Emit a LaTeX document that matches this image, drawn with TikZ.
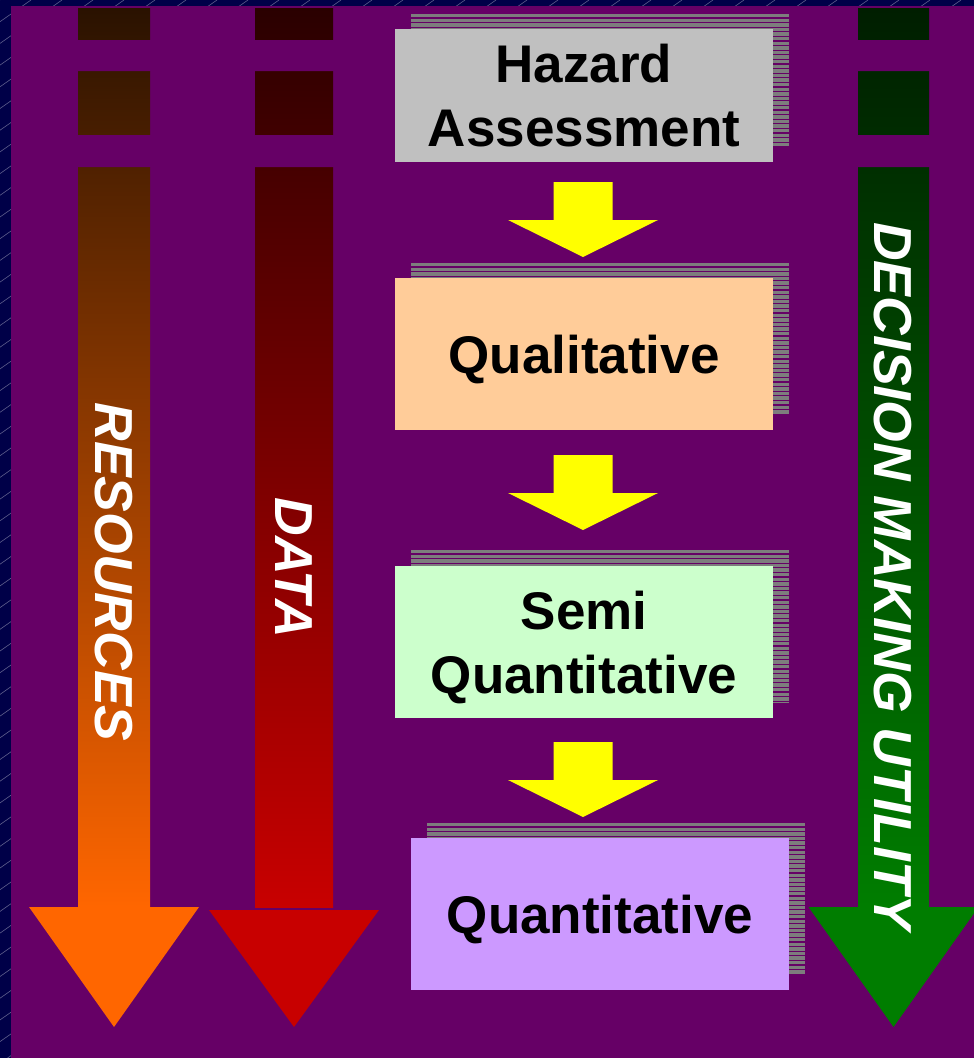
\documentclass[tikz,border=0pt]{standalone}
\usepackage{fontspec}
\setmainfont{Liberation Sans}

\definecolor{bgNavy}{RGB}{0,0,72}
\definecolor{bgPurple}{RGB}{102,0,102}
\definecolor{hatchLine}{RGB}{95,95,140}
\definecolor{stripeGray}{RGB}{125,125,125}
\definecolor{boxGray}{RGB}{192,192,192}
\definecolor{boxPeach}{RGB}{255,204,153}
\definecolor{boxMint}{RGB}{204,255,204}
\definecolor{boxLilac}{RGB}{204,153,255}
\definecolor{stepYellow}{RGB}{255,255,0}
\definecolor{resTop}{RGB}{42,18,0}
\definecolor{resBot}{RGB}{255,102,0}
\definecolor{dataTop}{RGB}{42,0,0}
\definecolor{dataBot}{RGB}{200,0,0}
\definecolor{decTop}{RGB}{0,30,0}
\definecolor{decBot}{RGB}{0,125,0}

% yellow step arrow: x centre, y top
\newcommand{\stepArrow}[2]{%
  \fill[stepYellow] (#1-29.5,#2) -- (#1+29.5,#2) -- (#1+29.5,#2+38)
    -- (#1+75,#2+38) -- (#1,#2+75) -- (#1-75,#2+38) -- (#1-29.5,#2+38) -- cycle;}

% side bar: left, right, top colour, bottom colour, head top
\newcommand{\sideBar}[5]{%
  \shade[top color=#3, bottom color=#4] (#1,8) rectangle (#2,907);
  \fill[bgPurple] (#1-1,40) rectangle (#2+1,71) (#1-1,135) rectangle (#2+1,167);
  \fill[#4] ({(#1+#2)/2-85},#5) -- ({(#1+#2)/2+85},#5) -- ({(#1+#2)/2},1027) -- cycle;}

% striped shadow behind a box: x1, y1, x2, y2
\newcommand{\boxShadow}[4]{%
  \begin{scope}
    \clip (#1,#2) rectangle (#3,#4);
    \foreach \s in {0,...,34}
      \fill[stripeGray] (#1,#2+4.6*\s) rectangle (#3,#2+4.6*\s+3.3);
  \end{scope}}

\begin{document}
\begin{tikzpicture}[x=1pt,y=-1pt]
		\useasboundingbox (0,0) rectangle (974,1058);
		\begin{scope}
			\clip (0,0) rectangle (974,1058);
			\fill[bgNavy] (0,0) rectangle (974,1058);
			\foreach \k in {0,...,50}
				\draw[hatchLine, line width=0.6pt] (31*\k,0) -- (31*\k-1600,1120);
			\fill[bgPurple] (11,6) rectangle (974,1058);

			\sideBar{78}{150}{resTop}{resBot}{907}
			\sideBar{255}{333}{dataTop}{dataBot}{910}
			\sideBar{858}{929}{decTop}{decBot}{907}
		\end{scope}

		\boxShadow{411}{14}{789}{146}
		\boxShadow{411}{263}{789}{414}
		\boxShadow{411}{550}{789}{702}
		\boxShadow{427}{823}{805}{974}

		\begin{scope}
			[
				levelBox/.style={
					fill=#1, minimum width=378pt, minimum height=152pt,
					inner sep=0pt, align=center, text depth=0pt,
					font=\bfseries\fontsize{53}{64}\selectfont
					},
				barLabel/.style={
					rotate=-90, text=white, inner sep=0pt,
					font=\bfseries\itshape\fontsize{53.5}{60}\selectfont
					},
			]
			\node(hazard)[levelBox=boxGray, minimum height=133pt] at (584,95.5) {Hazard\\Assessment};
			\node(qual)[levelBox=boxPeach] at (584,354) {Qualitative};
			\node(semi)[levelBox=boxMint] at (584,642) {Semi\\Quantitative};
			\node(quant)[levelBox=boxLilac] at (600,914) {Quantitative};

			\node(resLabel)[barLabel] at (114,572) {RESOURCES};
			\node(dataLabel)[barLabel] at (294,568) {DATA};
			\node(decLabel)[barLabel] at (893,576) {DECISION MAKING UTILITY};
		\end{scope}

		\stepArrow{583}{182}
		\stepArrow{583}{455}
		\stepArrow{583}{742}
\end{tikzpicture}
\end{document}
